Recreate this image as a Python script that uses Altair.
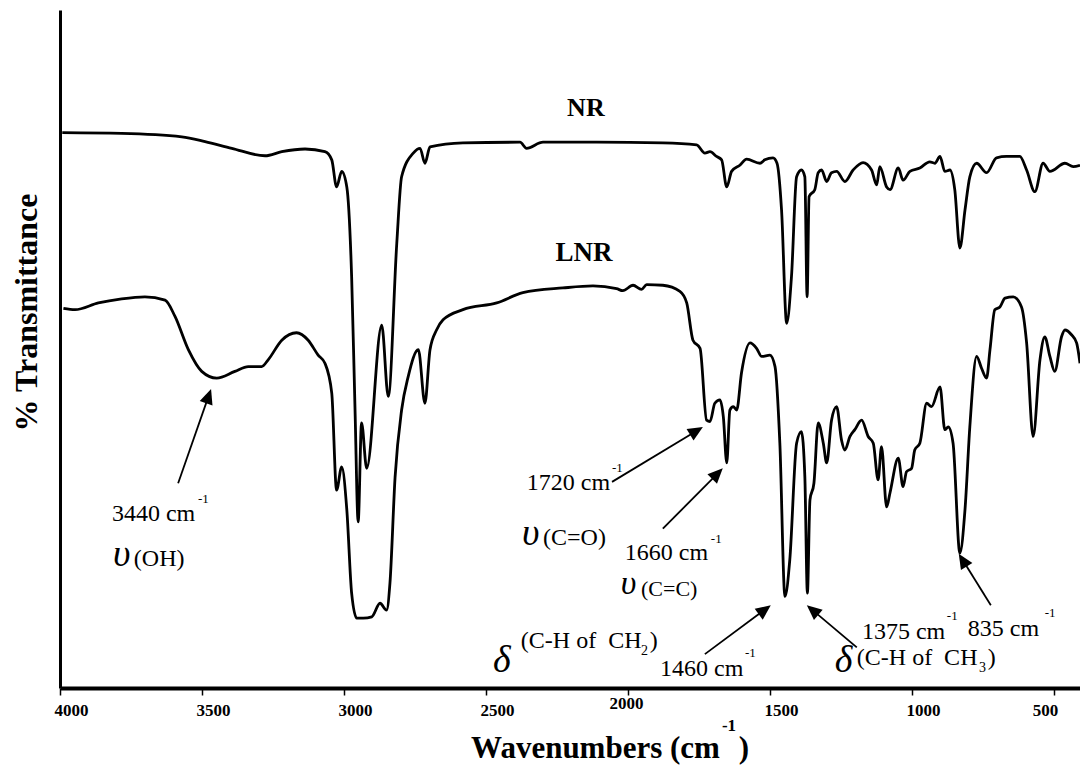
import altair as alt
import pandas as pd
import numpy as np

# ---------------- data ----------------
nr_wavenumber = [3992, 3783, 3571, 3489, 3395, 3278, 3219, 3137, 3067, 3043,
                 3026, 3008, 2990, 2973, 2961, 2950, 2938, 2920, 2867, 2844,
                 2814, 2797, 2756, 2732, 2715, 2697, 2581, 2380, 2357, 2299,
                 2110, 1877, 1758, 1729, 1711, 1688, 1670, 1652, 1635, 1606,
                 1582, 1535, 1518, 1489, 1475, 1459, 1441, 1424, 1406, 1389,
                 1377, 1369, 1362, 1342, 1330, 1318, 1300, 1283, 1265, 1236,
                 1207, 1172, 1142, 1124, 1113, 1089, 1077, 1048, 1031, 1007,
                 972, 937, 919, 901, 884, 866, 849, 831, 813, 796,
                 772, 737, 702, 667, 620, 596, 567, 538, 514, 461,
                 432, 408]
nr_transmittance = [81.9, 81.8, 81.3, 80.6, 79.6, 78.5, 79.1, 79.5, 79.1, 77.9,
                    73.9, 76.2, 73.9, 60.7, 41.0, 24.5, 39.1, 32.4, 53.5, 43.0,
                    65.6, 75.4, 78.9, 79.6, 77.4, 79.8, 80.4, 80.5, 79.6, 80.5,
                    80.5, 80.4, 80.1, 78.9, 79.1, 78.4, 77.9, 73.9, 76.2, 77.1,
                    78.0, 77.4, 77.9, 78.2, 77.4, 70.5, 53.8, 60.7, 75.4, 76.4,
                    75.4, 57.7, 72.5, 73.5, 76.0, 76.4, 74.7, 76.0, 76.2, 74.7,
                    76.4, 77.5, 76.4, 74.2, 76.9, 73.9, 73.5, 76.7, 74.9, 76.2,
                    76.7, 77.6, 77.4, 78.4, 76.2, 76.4, 73.5, 64.9, 70.5, 75.4,
                    77.4, 76.0, 78.2, 78.4, 78.4, 76.4, 73.2, 77.4, 76.2, 77.4,
                    76.9, 77.1]

lnr_wavenumber = [3988, 3947, 3865, 3783, 3701, 3630, 3595, 3548, 3501, 3448,
                  3384, 3337, 3290, 3267, 3219, 3167, 3126, 3091, 3067, 3043,
                  3026, 3008, 2990, 2973, 2955, 2932, 2902, 2873, 2850, 2838,
                  2820, 2797, 2774, 2738, 2715, 2697, 2674, 2651, 2581, 2462,
                  2370, 2229, 2123, 2040, 2018, 1982, 1952, 1934, 1877, 1817,
                  1793, 1771, 1746, 1723, 1711, 1694, 1676, 1664, 1652, 1641,
                  1629, 1617, 1600, 1570, 1547, 1529, 1500, 1482, 1465, 1447,
                  1430, 1406, 1389, 1377, 1368, 1359, 1345, 1330, 1312, 1300,
                  1283, 1265, 1248, 1236, 1218, 1201, 1177, 1154, 1136, 1119,
                  1107, 1089, 1077, 1048, 1031, 1019, 1001, 990, 972, 948,
                  931, 901, 884, 872, 855, 831, 813, 796, 772, 755,
                  737, 725, 708, 690, 672, 643, 614, 596, 573, 549,
                  532, 514, 497, 473, 461, 438, 420, 408]
lnr_transmittance = [56.0, 55.8, 56.8, 57.4, 57.7, 57.2, 54.8, 49.9, 46.7, 45.7,
                     46.7, 47.4, 47.4, 48.4, 51.3, 52.4, 51.3, 49.1, 47.9, 43.5,
                     29.2, 32.6, 26.3, 14.0, 10.3, 10.3, 10.5, 12.5, 11.5, 15.5,
                     31.1, 41.0, 45.9, 49.9, 42.0, 49.9, 52.8, 54.3, 55.8, 56.8,
                     58.3, 59.0, 59.3, 58.9, 58.6, 59.4, 58.8, 59.5, 59.4, 58.5,
                     56.8, 51.3, 50.1, 39.5, 39.3, 42.0, 42.5, 40.0, 33.2, 41.0,
                     41.5, 41.0, 46.5, 50.9, 50.1, 48.9, 49.1, 47.4, 36.1, 13.5,
                     18.9, 36.1, 37.8, 31.2, 14.0, 27.7, 30.2, 39.1, 36.1, 33.2,
                     39.5, 41.5, 36.6, 35.1, 37.1, 38.1, 39.5, 37.1, 36.1, 30.7,
                     35.6, 26.7, 28.8, 33.9, 29.7, 31.9, 32.4, 35.1, 36.1, 42.0,
                     41.5, 44.4, 38.1, 38.5, 36.1, 19.9, 26.3, 38.5, 48.9, 47.2,
                     45.7, 49.9, 55.8, 56.2, 57.5, 57.7, 56.2, 50.9, 37.1, 48.4,
                     51.8, 48.9, 46.7, 51.8, 52.8, 52.1, 50.9, 47.9]

x_ticks = [4000, 3500, 3000, 2500, 2000, 1500, 1000, 500]

NB = "\u00a0"  # keeps the double space inside labels

# series labels
series_text = ["NR", "LNR"]
series_w = [2148, 2155]
series_t = [84.4, 63.0]
series_fs = [26, 27]

# plain annotation text (left aligned, alphabetic baseline)
note_text = ["3440 cm", "(OH)", "1720 cm", "(C=O)", "1660 cm", "(C=C)",
             "(C-H of" + NB + NB + "CH", ")", "1460 cm",
             "(C-H of" + NB + NB + "CH", ")", "1375 cm", "835 cm"]
note_w = [3817, 3740, 2356, 2299, 2011, 1954, 2377, 1923, 1887, 1194, 733, 1176, 803]
note_t = [24.6, 18.0, 29.2, 21.1, 18.9, 13.6, 5.9, 5.9, 1.8, 3.4, 3.4, 7.3, 7.7]
note_fs = [24, 24, 24, 24, 24, 22, 24, 24, 24, 24, 24, 24, 24]

# superscripts "-1" and subscripts
sup_text = ["-1", "-1", "-1", "-1", "-1", "-1"]
sup_w = [3514, 2056, 1708, 1588, 877, 532]
sup_t = [27.3, 31.9, 21.4, 4.6, 10.1, 10.5]
sub_text = ["2", "3"]
sub_w = [1954, 764]
sub_t = [4.9, 2.3]

# greek symbols
greek_text = ["υ", "υ", "υ", "δ", "δ"]
greek_w = [3813, 2373, 2025, 2475, 1272]
greek_t = [18.0, 21.1, 13.8, 2.4, 2.4]
greek_fs = [38, 38, 34, 38, 38]

# arrows: tail -> tip
arrow_w0 = [3584, 2056, 1877, 1729, 1194, 722]
arrow_t0 = [30.2, 30.4, 23.5, 5.0, 6.0, 12.2]
arrow_w1 = [3468, 1736, 1666, 1497, 1370, 835]
arrow_t1 = [44.1, 38.5, 32.4, 12.2, 12.2, 19.8]

# x axis title pieces
xt_text = ["Wavenumbers (cm", "-1", ")"]
xt_w = [1676, 1669, 1610]
xt_t = [-10.3, -6.4, -10.3]
xt_fs = [31, 17, 31]
xt_align = ["right", "left", "left"]

# ---------------- build ----------------
X_DOMAIN = [408, 4000]
PLOT_W, PLOT_H = 1020, 678
kx = PLOT_W / (X_DOMAIN[1] - X_DOMAIN[0])
ky = PLOT_H / 100.0
FONT = "Liberation Serif"

spectra = pd.concat([
    pd.DataFrame({"W": nr_wavenumber, "T": nr_transmittance, "sample": "NR"}),
    pd.DataFrame({"W": lnr_wavenumber, "T": lnr_transmittance, "sample": "LNR"}),
])

xscale = alt.Scale(domain=X_DOMAIN, reverse=True, nice=False, zero=False)
yscale = alt.Scale(domain=[0, 100], nice=False, zero=False)

x_axis = alt.Axis(
    values=x_ticks, format="d", title=None, grid=False,
    domainColor="black", domainWidth=4,
    tickColor="black", tickWidth=1.5, tickSize=7,
    labelFont=FONT, labelFontWeight="bold", labelFontSize=17, labelColor="black",
    labelBaseline="top", labelFlush=False, labelOverlap=False,
    labelPadding={"condition": {"test": "datum.value == 2000", "value": 0}, "value": 7},
    labelOffset={"condition": [{"test": "datum.value == 2000", "value": -2},
                               {"test": "datum.value == 500", "value": -9}],
                 "value": 11},
)
y_axis = alt.Axis(
    title="% Transmittance", ticks=False, labels=False, grid=False,
    domainColor="black", domainWidth=3,
    titleFont=FONT, titleFontSize=32, titleFontWeight="bold", titleColor="black",
    titleX=-24, titleY=302, titleBaseline="alphabetic", titleAngle=270,
)

lines = alt.Chart(spectra).mark_line(
    color="black", strokeWidth=2.8, interpolate="monotone", strokeJoin="round"
).encode(
    x=alt.X("W:Q", scale=xscale, axis=x_axis),
    y=alt.Y("T:Q", scale=yscale, axis=y_axis),
    detail="sample:N",
    order=alt.Order("W:Q", sort="descending"),
)

# arrows
a = pd.DataFrame({"W0": arrow_w0, "T0": arrow_t0, "W1": arrow_w1, "T1": arrow_t1})
dx = -(a["W1"] - a["W0"]) * kx
dy = -(a["T1"] - a["T0"]) * ky
L = np.hypot(dx, dy)
ux, uy = dx / L, dy / L
back = 11.0
a["W1r"] = a["W1"] + ux * back / kx
a["T1r"] = a["T1"] + uy * back / ky
a["angle"] = (np.degrees(np.arctan2(ux, -uy))) % 360

rules = alt.Chart(a).mark_rule(color="black", strokeWidth=1.8).encode(
    x=alt.X("W0:Q", scale=xscale), y=alt.Y("T0:Q", scale=yscale),
    x2="W1r:Q", y2="T1r:Q",
)
heads = alt.Chart(a).mark_point(
    shape="M0,0 L0.45,1 L-0.45,1 Z", filled=True, color="black", opacity=1,
    size=900, strokeWidth=0,
).encode(
    x=alt.X("W1:Q", scale=xscale), y=alt.Y("T1:Q", scale=yscale),
    angle=alt.Angle("angle:Q", scale=None),
)


def text_layer(texts, ws, ts, fss, align="left", weight="normal", style="normal"):
    df = pd.DataFrame({"txt": texts, "W": ws, "T": ts, "fs": fss})
    return alt.Chart(df).mark_text(
        align=align, baseline="alphabetic", font=FONT, color="black",
        fontWeight=weight, fontStyle=style,
    ).encode(
        x=alt.X("W:Q", scale=xscale), y=alt.Y("T:Q", scale=yscale),
        text="txt:N", size=alt.Size("fs:Q", scale=None),
    )


series_layer = text_layer(series_text, series_w, series_t, series_fs, align="center", weight="bold")
notes_layer = text_layer(note_text, note_w, note_t, note_fs)
sup_layer = text_layer(sup_text, sup_w, sup_t, [13] * len(sup_text))
sub_layer = text_layer(sub_text, sub_w, sub_t, [14] * len(sub_text))
greek_layer = text_layer(greek_text, greek_w, greek_t, greek_fs, style="italic")

xt_layers = [
    text_layer([t], [w], [tt], [f], align=al, weight="bold")
    for t, w, tt, f, al in zip(xt_text, xt_w, xt_t, xt_fs, xt_align)
]

chart = alt.layer(
    lines, rules, heads, series_layer, notes_layer, sup_layer, sub_layer, greek_layer, *xt_layers
).properties(
    width=PLOT_W, height=PLOT_H,
    autosize=alt.AutoSizeParams(type="none"),
    padding={"left": 60, "top": 10, "right": 0, "bottom": 81},
    background="white",
).configure_view(stroke=None)

chart.save("out.html", embed_options={"renderer": "svg", "actions": False})
